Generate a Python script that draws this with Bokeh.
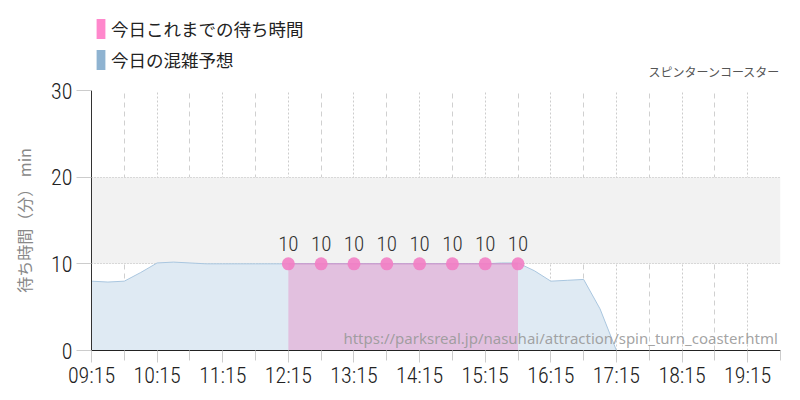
from bokeh.plotting import figure
from bokeh.models import FixedTicker, Label, Legend, LegendItem, ColumnDataSource, Range1d
from bokeh.layouts import column
from bokeh.core.properties import value
from bokeh.embed import file_html
from bokeh.resources import INLINE

# ---- data ----
hour_ticks = [9.25, 10.25, 11.25, 12.25, 13.25, 14.25, 15.25, 16.25, 17.25, 18.25, 19.25]
hour_labels = ["09:15", "10:15", "11:15", "12:15", "13:15", "14:15", "15:15",
               "16:15", "17:15", "18:15", "19:15"]
half_ticks = [9.75, 10.75, 11.75, 12.75, 13.75, 14.75, 15.75, 16.75, 17.75, 18.75, 19.75]

# forecast (今日の混雑予想), every 15 minutes from 09:15 to 19:45
fc_time = [9.25, 9.5, 9.75, 10.0, 10.25, 10.5, 10.75, 11.0, 11.25, 11.5, 11.75,
           12.0, 12.25, 12.5, 12.75, 13.0, 13.25, 13.5, 13.75, 14.0, 14.25, 14.5,
           14.75, 15.0, 15.25, 15.5, 15.75, 16.0, 16.25, 16.5, 16.75, 17.0, 17.25,
           17.5, 17.75, 18.0, 18.25, 18.5, 18.75, 19.0, 19.25, 19.5, 19.75]
fc_wait = [8.0, 7.9, 8.0, 9.0, 10.1, 10.2, 10.1, 10.0, 10.0, 10.0, 10.0,
           10.0, 10.0, 10.0, 10.0, 10.0, 10.0, 10.0, 10.0, 10.0, 10.0, 10.0,
           10.0, 10.0, 10.0, 10.1, 10.1, 9.2, 8.0, 8.1, 8.2, 4.8, 0.0,
           0.0, 0.0, 0.0, 0.0, 0.0, 0.0, 0.0, 0.0, 0.0, 0.0]

# actual wait times so far (今日これまでの待ち時間)
act_time = [12.25, 12.75, 13.25, 13.75, 14.25, 14.75, 15.25, 15.75]
act_wait = [10, 10, 10, 10, 10, 10, 10, 10]

title_text = "スピンターンコースター"
legend_actual = "今日これまでの待ち時間"
legend_forecast = "今日の混雑予想"
y_label = "待ち時間（分） min"
url_text = "https://parksreal.jp/nasuhai/attraction/spin_turn_coaster.html"

NUM_FONT = "Roboto Condensed Light, Roboto Condensed, Roboto, sans-serif"
JP_FONT = "Noto Sans CJK JP"

BL, FW, BR = 91, 689, 20     # left border, frame width, right border (same for both rows)
TOP_H = 80

# ---------- header (legend + title); x in page pixels ----------
top = figure(frame_width=FW, frame_height=TOP_H, x_range=Range1d(BL, BL + FW),
             y_range=Range1d(TOP_H, 0), output_backend="svg", toolbar_location=None,
             min_border_left=BL, min_border_right=BR, min_border_top=0, min_border_bottom=0)
top.axis.visible = False
top.grid.visible = False
top.outline_line_color = None
top.background_fill_color = "white"
top.border_fill_color = "white"

# swatch renderers: only the legend shows them
r_a = top.varea(x=[0, 10], y1=[0, 0], y2=[1, 1], fill_color="#ff88cc")
r_f = top.varea(x=[0, 10], y1=[0, 0], y2=[1, 1], fill_color="#8fb3d1")
legend = Legend(items=[LegendItem(label=legend_actual, renderers=[r_a]),
                       LegendItem(label=legend_forecast, renderers=[r_f])],
                location=(4, 8), orientation="vertical",
                glyph_width=11, glyph_height=25, label_height=25, spacing=6,
                padding=0, margin=0, label_standoff=5,
                label_text_font=JP_FONT, label_text_font_size="17.5px",
                label_text_color="#222222",
                border_line_color=None, background_fill_alpha=0)
top.add_layout(legend, "center")
top.add_layout(Label(x=648, y=TOP_H - 0.5, text=title_text, text_align="left",
                     text_baseline="bottom", text_font=JP_FONT, text_font_size="12px",
                     text_color="#555555"))

# ---------- main chart ----------
p = figure(frame_width=FW, frame_height=260, x_range=(9.25, 19.75), y_range=(0, 30),
           output_backend="svg", toolbar_location=None,
           min_border_left=BL, min_border_right=BR, min_border_top=10, min_border_bottom=50)
p.outline_line_color = None
p.background_fill_color = "white"
p.border_fill_color = "white"

# x axis
p.xaxis.ticker = FixedTicker(ticks=hour_ticks, minor_ticks=half_ticks)
p.xaxis.major_label_overrides = {t: l for t, l in zip(hour_ticks, hour_labels)}
p.xaxis.axis_line_color = "#222222"
p.xaxis.major_tick_line_color = "#cccccc"
p.xaxis.minor_tick_line_color = "#cccccc"
p.xaxis.major_tick_in = 0
p.xaxis.major_tick_out = 12
p.xaxis.minor_tick_in = 0
p.xaxis.minor_tick_out = 10
p.xaxis.major_label_standoff = 0
p.xaxis.major_label_text_font = NUM_FONT
p.xaxis.major_label_text_font_size = "22px"
p.xaxis.major_label_text_color = "#222222"

# y axis
p.yaxis.ticker = FixedTicker(ticks=[0, 10, 20, 30])
p.yaxis.axis_line_color = "#333333"
p.yaxis.major_tick_line_color = "#cccccc"
p.yaxis.major_tick_in = 0
p.yaxis.major_tick_out = 15
p.yaxis.minor_tick_line_color = None
p.yaxis.major_label_standoff = 4
p.yaxis.major_label_text_font = NUM_FONT
p.yaxis.major_label_text_font_size = "22px"
p.yaxis.major_label_text_color = "#222222"
p.yaxis.axis_label = y_label
p.yaxis.axis_label_text_font = JP_FONT
p.yaxis.axis_label_text_font_style = "normal"
p.yaxis.axis_label_text_font_size = "16px"
p.yaxis.axis_label_text_color = "#888888"
p.yaxis.axis_label_standoff = 12

# grids
p.xgrid.grid_line_color = "#cccccc"
p.xgrid.grid_line_dash = "2 2"
p.xgrid.minor_grid_line_color = "#d0d0d0"
p.xgrid.minor_grid_line_dash = "5 4"
p.ygrid.grid_line_color = "#bbbbbb"
p.ygrid.grid_line_dash = "1 2"
p.ygrid.band_fill_color = "#f2f2f2"
p.ygrid.band_fill_alpha = 1.0

fc = ColumnDataSource(dict(x=fc_time, y=fc_wait))
act = ColumnDataSource(dict(x=act_time, y=act_wait, t=[str(v) for v in act_wait]))

p.varea(x="x", y1=0, y2="y", source=fc, fill_color="#dfeaf3")
p.line(x="x", y="y", source=fc, line_color="#a9c6df", line_width=1)
p.varea(x="x", y1=0, y2="y", source=act, fill_color="#e2c0df")
p.line(x="x", y="y", source=act, line_color="#c98cc8", line_width=1)
p.scatter(x="x", y="y", source=act, size=13, fill_color="#f27ec4", line_color=None, fill_alpha=0.9)
p.text(x="x", y="y", text="t", source=act, y_offset=-13, text_align="center",
       text_baseline="bottom", text_font=value(NUM_FONT), text_font_size="21px",
       text_color="#333333")

p.add_layout(Label(x=19.71, y=1.4, text=url_text, text_align="right",
                   text_baseline="middle", text_font="Noto Sans", text_font_size="15px",
                   text_color="#999999", text_alpha=0.9))

layout = column(top, p, spacing=0)
open("out.html", "w").write(file_html(layout, INLINE))
